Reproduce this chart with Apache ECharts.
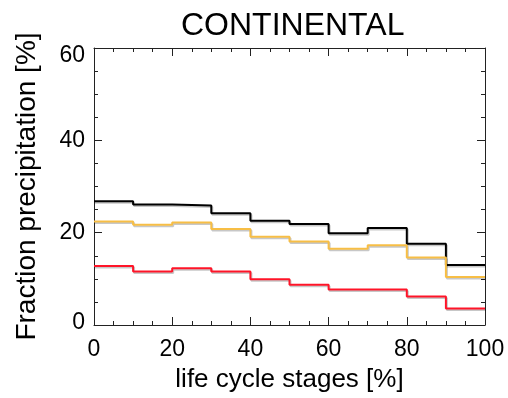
<!DOCTYPE html>
<html>
<head>
<meta charset="utf-8">
<script src="https://cdn.jsdelivr.net/npm/echarts@6/dist/echarts.min.js"></script>
<style>html,body{margin:0;padding:0;background:#fff}#c{width:508px;height:398px}</style>
</head>
<body>
<div id="c"></div>
<script>
var binEdges = [0, 10, 20, 30, 40, 50, 60, 70, 80, 90, 100];
var blackValues  = [26.8, 26.1, 25.9, 24.2, 22.6, 21.9, 19.9, 21.0, 17.6, 13.0];
var orangeValues = [22.4, 21.7, 22.2, 20.8, 19.1, 18.1, 16.5, 17.3, 14.6, 10.4];
var redValues    = [12.8, 11.6, 12.3, 11.6, 9.9, 8.7, 7.7, 7.7, 6.2, 3.6];
var yTicks = [0, 20, 40, 60];
var xTicks = [0, 20, 40, 60, 80, 100];

function stepData(vals) {
  var d = [];
  for (var i = 0; i < vals.length; i++) d.push([binEdges[i], vals[i]]);
  d.push([binEdges[binEdges.length - 1], vals[vals.length - 1]]);
  return d;
}

var FONT = 'Liberation Sans, Arial, Helvetica, sans-serif';
var axisCol = '#222';

function mkSeries(vals, color) {
  return {
    type: 'line', step: 'end', data: stepData(vals), symbol: 'none',
    xAxisIndex: 0, yAxisIndex: 0,
    lineStyle: { color: color, width: 2, shadowColor: 'rgba(0,0,0,0.22)', shadowOffsetX: 1, shadowOffsetY: 1.5, shadowBlur: 0 },
    animation: false
  };
}

function frameAxis(extra) {
  var base = {
    type: 'value',
    axisLine: { show: true, onZero: false, lineStyle: { color: axisCol, width: 1 } },
    axisTick: { show: true, inside: true, length: 8, lineStyle: { color: axisCol } },
    minorTick: { show: true, splitNumber: 4, length: 4, lineStyle: { color: axisCol } },
    splitLine: { show: false }
  };
  for (var k in extra) base[k] = extra[k];
  return base;
}

var chart = echarts.init(document.getElementById('c'), null, { renderer: 'canvas' });
chart.setOption({
  animation: false,
  backgroundColor: '#fff',
  title: {
    text: 'CONTINENTAL', left: 176, top: 5,
    textStyle: { fontFamily: FONT, fontSize: 32, fontWeight: 'normal', color: '#000' }
  },
  grid: { left: 94, right: 23, top: 48, bottom: 67, containLabel: false },
  xAxis: [
    frameAxis({
      min: 0, max: 100, interval: 20, position: 'bottom',
      name: 'life cycle stages [%]', nameLocation: 'middle', nameGap: 42,
      nameTextStyle: { fontFamily: FONT, fontSize: 26, color: '#000' },
      axisLabel: { fontFamily: FONT, fontSize: 23, color: '#000', margin: 13,
        formatter: function (v) { return xTicks.indexOf(v) >= 0 ? String(v) : ''; } }
    }),
    frameAxis({ min: 0, max: 100, interval: 20, position: 'top', axisLabel: { show: false } })
  ],
  yAxis: [
    frameAxis({
      min: 0, max: 60, interval: 20, position: 'left',
      name: 'Fraction precipitation [%]', nameLocation: 'middle', nameGap: 53,
      nameTextStyle: { fontFamily: FONT, fontSize: 28, color: '#000' },
      axisLabel: { fontFamily: FONT, fontSize: 23, color: '#000', margin: 9,
        formatter: function (v) {
          if (yTicks.indexOf(v) < 0) return '';
          if (v === yTicks[yTicks.length - 1]) return '{top|' + v + '}';
          if (v === yTicks[0]) return '{bot|' + v + '}';
          return String(v);
        },
        rich: {
          top: { fontFamily: FONT, fontSize: 23, color: '#000', padding: [16, 0, 0, 0] },
          bot: { fontFamily: FONT, fontSize: 23, color: '#000', padding: [0, 0, 4, 0] }
        }
      }
    }),
    frameAxis({ min: 0, max: 60, interval: 20, position: 'right', axisLabel: { show: false } })
  ],
  series: [
    mkSeries(blackValues, '#000000'),
    mkSeries(orangeValues, '#F7BE45'),
    mkSeries(redValues, '#FF1428')
  ]
});
</script>
</body>
</html>
